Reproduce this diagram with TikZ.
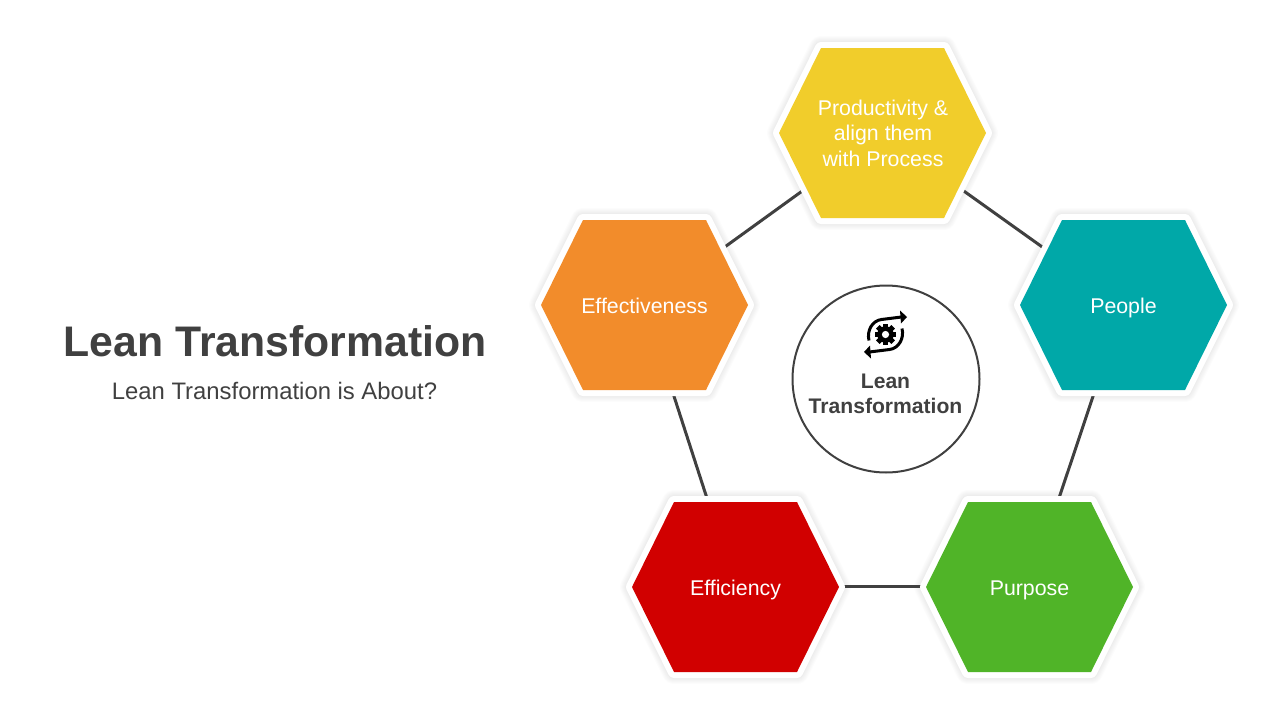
\documentclass[tikz,border=0pt]{standalone}
\usepackage{fontspec}
\setmainfont{Liberation Sans}
\usetikzlibrary{backgrounds}
\definecolor{ink}{HTML}{404040}
\definecolor{cyellow}{HTML}{F1CD2B}
\definecolor{cteal}{HTML}{00A8A8}
\definecolor{corange}{HTML}{F28C2B}
\definecolor{cred}{HTML}{D10000}
\definecolor{cgreen}{HTML}{50B428}
\tikzset{
  x=1pt,y=-1pt,
  hexlabel/.style={inner sep=0pt,align=center,text=white,font=\fontsize{21.33pt}{25.6pt}\selectfont},
  oneline/.style={text height=15pt,text depth=4pt},
  halo/.style={draw=black,draw opacity=0.012,line width=#1,line join=round},
  rim/.style={draw=white,fill=white,line width=12pt,line join=round},
  link/.style={draw=ink,line width=3pt},
}
\newcommand{\hexpath}{(-103.5,0) -- (-61.5,-85) -- (61.5,-85) -- (103.5,0) -- (61.5,85) -- (-61.5,85) -- cycle}
\newcommand{\hexa}[3]{%
  \begin{scope}[shift={(#1,#2)}]
  \begin{pgfonlayer}{background}
  \foreach \w in {24pt,22pt,20pt,18pt,16pt,14pt}{\draw[halo=\w] \hexpath;}
  \end{pgfonlayer}
  \draw[rim] \hexpath;
  \fill[#3] \hexpath;
  \end{scope}
}
\begin{document}
\begin{tikzpicture}
\useasboundingbox (0,0) rectangle (1280,720);
\hexa{882.5}{133}{cyellow}
\hexa{644.5}{305}{corange}
\hexa{1123.5}{305}{cteal}
\hexa{735.5}{587}{cred}
\hexa{1029.5}{587}{cgreen}
\node[hexlabel] (prod) at (883,133) {Productivity \&\\align them\\with Process};
\node[hexlabel,oneline] (eff) at (644.5,307.5) {Effectiveness};
\node[hexlabel,oneline] (people) at (1123.5,307.5) {People};
\node[hexlabel,oneline] (effi) at (735.5,589.5) {Efficiency};
\node[hexlabel,oneline] (purp) at (1029.5,589.5) {Purpose};
\coordinate (cprod) at (882.5,133);
\coordinate (ceff) at (644.5,305);
\coordinate (cpeople) at (1123.5,305);
\coordinate (ceffi) at (735.5,586.5);
\coordinate (cpurp) at (1029.5,586.5);
\begin{pgfonlayer}{background}
\draw[link] (cprod) -- (cpeople);
\draw[link] (cpeople) -- (cpurp);
\draw[link] (cpurp) -- (ceffi);
\draw[link] (ceffi) -- (ceff);
\draw[link] (ceff) -- (cprod);
\end{pgfonlayer}
\node[circle,draw=ink,line width=2pt,minimum size=187pt,inner sep=0pt] (hub) at (886,379) {};
\node[font=\bfseries\fontsize{21.1pt}{25pt}\selectfont,text=ink,align=center] (hubt) at (885.5,394) {Lean\\Transformation};
\node[font=\bfseries\fontsize{42.75pt}{50pt}\selectfont,text=ink,anchor=center] (title) at (275,341) {Lean Transformation};
\node[font=\fontsize{23.85pt}{28pt}\selectfont,text=ink,anchor=center] (sub) at (274.5,391) {Lean Transformation is About?};
% icon
\begin{scope}[shift={(885.5,334.5)}]
\fill[black] (0,0) circle (8.2pt);
\foreach \a in {0,45,...,315}{\fill[black,rotate=\a] (-2.6,-10.8) rectangle (2.6,-6);}
\fill[white] (0,0) circle (3.6pt);
\foreach \r in {0,180}{
\begin{scope}[rotate=\r]
\draw[black,line width=3pt] (-16.5,6) .. controls (-19,-4) and (-13,-14) .. (-4,-15) -- (16,-17.5);
\fill[black] (14.5,-24) -- (21.5,-17.5) -- (15.5,-11) -- cycle;
\end{scope}}
\end{scope}
\end{tikzpicture}
\end{document}
